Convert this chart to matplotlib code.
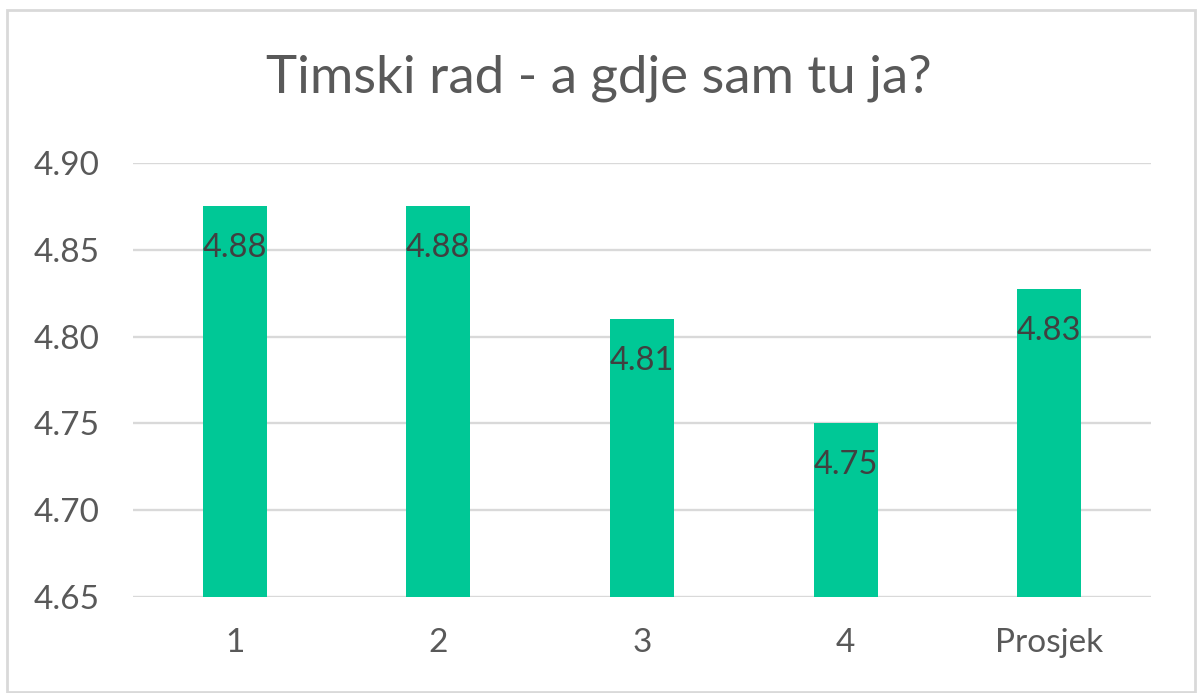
import matplotlib.pyplot as plt
from matplotlib.patches import Rectangle

categories = ["1", "2", "3", "4", "Prosjek"]
values = [4.875, 4.875, 4.81, 4.75, 4.8275]
labels = ["4.88", "4.88", "4.81", "4.75", "4.83"]
yticks = [4.65, 4.70, 4.75, 4.80, 4.85, 4.90]

plt.rcParams['font.family'] = ['Lato', 'DejaVu Sans']

fig = plt.figure(figsize=(11.97, 6.93), dpi=100)
ax = fig.add_axes([133 / 1197, 96 / 693, 1018 / 1197, 434 / 693])

x = range(len(categories))
bars = ax.bar(x, values, width=0.315, color='#00C896', zorder=3)
ax.set_ylim(4.65, 4.90)
ax.set_xlim(-0.5, len(categories) - 0.5)
ax.set_yticks(yticks)
ax.set_yticklabels([f"{t:.2f}" for t in yticks])
ax.set_xticks(list(x))
ax.set_xticklabels(categories)

ax.grid(axis='y', color='#D9D9D9', linewidth=1.7, zorder=0)
for s in ax.spines.values():
    s.set_visible(False)
ax.tick_params(axis='both', length=0, labelsize=24, colors='#595959')
ax.tick_params(axis='y', pad=24)
ax.tick_params(axis='x', pad=22)

for b, lab in zip(bars, labels):
    ax.annotate(lab, (b.get_x() + b.get_width() / 2, b.get_height()),
                xytext=(0, -30), textcoords='offset points',
                ha='center', va='center', fontsize=23.5, color='#404040', zorder=4)

fig.text(0.5, 1 - 78 / 693, "Timski rad - a gdje sam tu ja?", ha='center', va='center',
         fontsize=38, color='#595959')

fig.patches.append(Rectangle((7 / 1197, 1 / 693), 1188 / 1197, 682 / 693,
                             transform=fig.transFigure, fill=False,
                             edgecolor='#D9D9D9', linewidth=2))

fig.savefig("out.png", dpi=100)
